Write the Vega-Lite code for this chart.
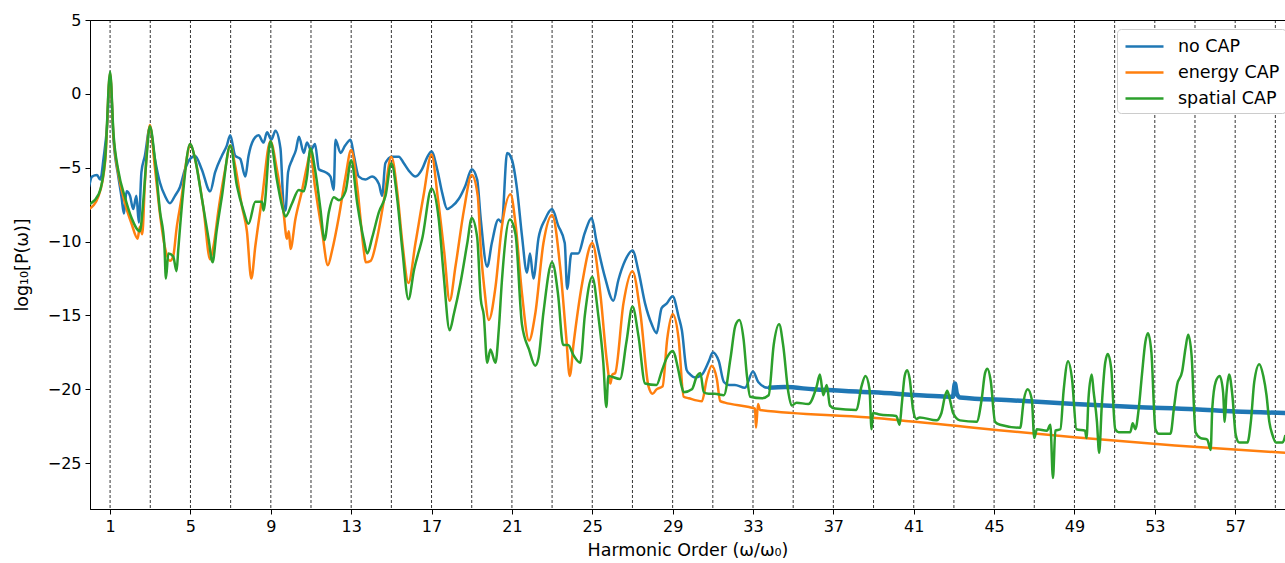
{
  "$schema": "https://vega.github.io/schema/vega-lite/v6.json",
  "width": 1195,
  "height": 489,
  "autosize": "none",
  "padding": {"left": 90, "top": 20, "right": 0, "bottom": 54},
  "background": "white",
  "config": {
    "font": "DejaVu Sans",
    "view": {"stroke": "black", "strokeWidth": 1},
    "axis": {"labelFont": "DejaVu Sans", "labelFontSize": 16, "labelColor": "black", "tickColor": "black", "domainColor": "black", "tickSize": 5, "tickWidth": 1, "domainWidth": 1, "titleFont": "DejaVu Sans", "titleFontSize": 17.5, "titleFontWeight": "normal", "titleColor": "black", "grid": false}
  },
  "datasets": {
    "nocap": [
      {"h":-0.05,"p":-6.3},{"h":0.1,"p":-5.6},{"h":0.35,"p":-5.5},{"h":0.51,"p":-5.8},{"h":0.68,"p":-4.3},{"h":0.85,"p":-2.2},{"h":1.0,"p":1.2},{"h":1.17,"p":-3.1},{"h":1.41,"p":-5.6},{"h":1.57,"p":-7.0},{"h":1.69,"p":-8.1},{"h":1.82,"p":-6.6},{"h":1.99,"p":-6.9},{"h":2.15,"p":-7.8},{"h":2.31,"p":-6.9},{"h":2.43,"p":-8.7},{"h":2.56,"p":-5.3},{"h":2.73,"p":-4.2},{"h":2.98,"p":-2.3},{"h":3.23,"p":-4.4},{"h":3.48,"p":-6.0},{"h":3.73,"p":-6.9},{"h":3.98,"p":-7.4},{"h":4.23,"p":-6.9},{"h":4.48,"p":-6.3},{"h":4.73,"p":-5.1},{"h":4.98,"p":-4.4},{"h":5.23,"p":-4.2},{"h":5.56,"p":-5.1},{"h":5.98,"p":-6.6},{"h":6.23,"p":-5.3},{"h":6.56,"p":-4.2},{"h":6.81,"p":-3.5},{"h":6.98,"p":-2.8},{"h":7.23,"p":-4.2},{"h":7.48,"p":-4.4},{"h":7.73,"p":-5.6},{"h":7.89,"p":-4.2},{"h":8.14,"p":-3.1},{"h":8.39,"p":-2.8},{"h":8.64,"p":-3.3},{"h":8.81,"p":-2.6},{"h":9.03,"p":-3.1},{"h":9.23,"p":-2.5},{"h":9.48,"p":-3.7},{"h":9.64,"p":-7.6},{"h":9.73,"p":-7.9},{"h":9.86,"p":-5.3},{"h":10.06,"p":-4.46},{"h":10.25,"p":-3.8},{"h":10.4,"p":-2.9},{"h":10.64,"p":-4.0},{"h":10.8,"p":-3.3},{"h":11.0,"p":-3.8},{"h":11.2,"p":-3.4},{"h":11.39,"p":-5.1},{"h":11.72,"p":-5.3},{"h":11.97,"p":-5.6},{"h":12.13,"p":-6.5},{"h":12.22,"p":-3.1},{"h":12.47,"p":-4.0},{"h":12.7,"p":-3.5},{"h":12.97,"p":-3.1},{"h":13.14,"p":-4.2},{"h":13.38,"p":-5.6},{"h":13.71,"p":-5.8},{"h":14.04,"p":-5.6},{"h":14.38,"p":-6.1},{"h":14.54,"p":-6.9},{"h":14.7,"p":-4.7},{"h":15.03,"p":-4.25},{"h":15.37,"p":-4.25},{"h":15.62,"p":-4.7},{"h":15.87,"p":-5.2},{"h":16.2,"p":-5.6},{"h":16.53,"p":-5.1},{"h":16.78,"p":-4.3},{"h":17.0,"p":-3.9},{"h":17.28,"p":-5.1},{"h":17.53,"p":-6.7},{"h":17.78,"p":-7.8},{"h":18.03,"p":-7.6},{"h":18.36,"p":-7.1},{"h":18.69,"p":-6.2},{"h":19.0,"p":-5.1},{"h":19.27,"p":-5.8},{"h":19.45,"p":-8.5},{"h":19.77,"p":-11.7},{"h":20.0,"p":-10.1},{"h":20.33,"p":-8.5},{"h":20.5,"p":-8.7},{"h":20.76,"p":-4.0},{"h":21.0,"p":-4.46},{"h":21.26,"p":-6.5},{"h":21.5,"p":-9.6},{"h":21.75,"p":-12.1},{"h":21.9,"p":-10.8},{"h":22.07,"p":-12.5},{"h":22.32,"p":-9.8},{"h":22.65,"p":-8.5},{"h":23.0,"p":-7.8},{"h":23.3,"p":-8.9},{"h":23.63,"p":-10.1},{"h":23.75,"p":-13.2},{"h":23.96,"p":-10.8},{"h":24.3,"p":-10.8},{"h":24.63,"p":-9.4},{"h":24.97,"p":-8.4},{"h":25.2,"p":-9.9},{"h":25.63,"p":-12.4},{"h":26.05,"p":-14.0},{"h":26.3,"p":-12.6},{"h":26.63,"p":-11.3},{"h":27.0,"p":-10.6},{"h":27.3,"p":-12.0},{"h":27.63,"p":-14.2},{"h":27.96,"p":-15.6},{"h":28.2,"p":-16.2},{"h":28.45,"p":-14.5},{"h":28.7,"p":-14.2},{"h":29.0,"p":-13.7},{"h":29.3,"p":-15.1},{"h":29.46,"p":-16.0},{"h":29.7,"p":-18.7},{"h":29.88,"p":-19.0},{"h":30.13,"p":-19.2},{"h":30.46,"p":-19.0},{"h":30.8,"p":-18.1},{"h":31.0,"p":-17.5},{"h":31.3,"p":-18.1},{"h":31.55,"p":-19.5},{"h":31.8,"p":-19.7},{"h":32.1,"p":-19.7},{"h":32.6,"p":-19.9},{"h":33.0,"p":-18.8},{"h":33.26,"p":-19.5},{"h":33.75,"p":-19.9},{"h":34.6,"p":-19.85},{"h":36.0,"p":-20.0},{"h":39.0,"p":-20.2},{"h":42.0,"p":-20.45},{"h":42.95,"p":-20.5},{"h":43.05,"p":-19.6},{"h":43.15,"p":-20.3},{"h":43.3,"p":-20.55},{"h":46.0,"p":-20.75},{"h":49.0,"p":-21.0},{"h":52.0,"p":-21.2},{"h":55.0,"p":-21.35},{"h":57.0,"p":-21.5},{"h":59.5,"p":-21.6}
    ],
    "energy": [
      {"h":-0.05,"p":-7.8},{"h":0.43,"p":-6.9},{"h":0.76,"p":-4.5},{"h":1.0,"p":1.4},{"h":1.17,"p":-2.9},{"h":1.41,"p":-5.4},{"h":1.74,"p":-7.4},{"h":2.07,"p":-8.8},{"h":2.37,"p":-9.8},{"h":2.48,"p":-9.0},{"h":2.6,"p":-9.5},{"h":2.73,"p":-6.1},{"h":2.98,"p":-2.1},{"h":3.23,"p":-5.0},{"h":3.48,"p":-8.1},{"h":3.73,"p":-10.4},{"h":3.98,"p":-11.3},{"h":4.14,"p":-11.0},{"h":4.31,"p":-9.1},{"h":4.56,"p":-7.0},{"h":4.8,"p":-4.5},{"h":4.98,"p":-3.4},{"h":5.23,"p":-4.4},{"h":5.65,"p":-7.8},{"h":5.98,"p":-11.2},{"h":6.15,"p":-10.3},{"h":6.4,"p":-7.8},{"h":6.73,"p":-5.1},{"h":6.98,"p":-3.5},{"h":7.23,"p":-4.9},{"h":7.56,"p":-7.6},{"h":7.81,"p":-9.3},{"h":8.03,"p":-12.5},{"h":8.23,"p":-10.3},{"h":8.56,"p":-7.1},{"h":8.98,"p":-3.2},{"h":9.3,"p":-5.1},{"h":9.64,"p":-8.1},{"h":9.8,"p":-9.8},{"h":9.9,"p":-9.3},{"h":9.98,"p":-10.5},{"h":10.22,"p":-8.5},{"h":10.56,"p":-6.5},{"h":10.8,"p":-4.9},{"h":10.97,"p":-4.0},{"h":11.2,"p":-6.3},{"h":11.56,"p":-9.4},{"h":11.84,"p":-11.6},{"h":12.05,"p":-10.6},{"h":12.39,"p":-8.3},{"h":12.72,"p":-5.6},{"h":13.0,"p":-3.8},{"h":13.3,"p":-6.3},{"h":13.63,"p":-10.6},{"h":13.72,"p":-11.4},{"h":13.97,"p":-11.3},{"h":14.3,"p":-9.7},{"h":14.63,"p":-7.2},{"h":15.0,"p":-4.25},{"h":15.3,"p":-6.7},{"h":15.55,"p":-10.1},{"h":15.85,"p":-12.8},{"h":16.2,"p":-10.1},{"h":16.6,"p":-6.9},{"h":17.0,"p":-4.1},{"h":17.3,"p":-6.9},{"h":17.63,"p":-10.7},{"h":17.9,"p":-14.0},{"h":18.2,"p":-11.6},{"h":18.62,"p":-7.8},{"h":19.0,"p":-5.5},{"h":19.3,"p":-6.9},{"h":19.45,"p":-10.5},{"h":19.63,"p":-13.2},{"h":19.85,"p":-15.3},{"h":20.18,"p":-13.1},{"h":20.5,"p":-9.0},{"h":20.93,"p":-6.8},{"h":21.18,"p":-8.8},{"h":21.5,"p":-13.5},{"h":21.85,"p":-16.7},{"h":22.16,"p":-14.9},{"h":22.57,"p":-10.1},{"h":23.0,"p":-8.2},{"h":23.4,"p":-11.7},{"h":23.7,"p":-16.4},{"h":23.88,"p":-19.1},{"h":24.07,"p":-16.9},{"h":24.5,"p":-12.8},{"h":25.0,"p":-10.1},{"h":25.4,"p":-13.5},{"h":25.72,"p":-18.0},{"h":25.9,"p":-19.6},{"h":26.0,"p":-19.0},{"h":26.14,"p":-18.9},{"h":26.55,"p":-14.2},{"h":27.0,"p":-12.0},{"h":27.4,"p":-14.9},{"h":27.8,"p":-19.8},{"h":28.0,"p":-20.3},{"h":28.2,"p":-20.0},{"h":28.5,"p":-19.8},{"h":28.73,"p":-16.6},{"h":29.0,"p":-14.9},{"h":29.3,"p":-16.6},{"h":29.55,"p":-20.5},{"h":29.8,"p":-20.6},{"h":30.46,"p":-20.8},{"h":30.7,"p":-19.3},{"h":30.95,"p":-18.4},{"h":31.2,"p":-19.3},{"h":31.37,"p":-20.8},{"h":31.6,"p":-20.9},{"h":32.8,"p":-21.2},{"h":33.1,"p":-21.3},{"h":33.15,"p":-22.6},{"h":33.25,"p":-21.0},{"h":33.35,"p":-21.4},{"h":38.8,"p":-21.9},{"h":44.0,"p":-22.6},{"h":49.0,"p":-23.25},{"h":54.0,"p":-23.8},{"h":59.5,"p":-24.3}
    ],
    "spatial": [
      {"h":-0.05,"p":-7.5},{"h":0.43,"p":-6.8},{"h":0.76,"p":-4.3},{"h":1.0,"p":1.5},{"h":1.17,"p":-2.7},{"h":1.41,"p":-5.2},{"h":1.74,"p":-7.0},{"h":2.07,"p":-8.4},{"h":2.48,"p":-9.3},{"h":2.65,"p":-7.3},{"h":2.81,"p":-4.4},{"h":2.98,"p":-2.2},{"h":3.23,"p":-4.4},{"h":3.48,"p":-7.9},{"h":3.7,"p":-10.2},{"h":3.78,"p":-12.5},{"h":3.9,"p":-10.8},{"h":4.14,"p":-11.0},{"h":4.31,"p":-12.0},{"h":4.39,"p":-10.6},{"h":4.64,"p":-6.6},{"h":4.98,"p":-3.4},{"h":5.23,"p":-4.4},{"h":5.56,"p":-7.0},{"h":5.9,"p":-9.8},{"h":6.1,"p":-11.4},{"h":6.3,"p":-9.3},{"h":6.56,"p":-7.0},{"h":6.98,"p":-3.5},{"h":7.31,"p":-6.2},{"h":7.64,"p":-7.9},{"h":7.89,"p":-8.8},{"h":8.23,"p":-7.3},{"h":8.56,"p":-7.3},{"h":8.64,"p":-7.9},{"h":8.98,"p":-3.2},{"h":9.3,"p":-5.8},{"h":9.56,"p":-7.6},{"h":9.73,"p":-8.3},{"h":10.06,"p":-7.4},{"h":10.39,"p":-6.5},{"h":10.64,"p":-6.6},{"h":10.8,"p":-5.6},{"h":10.97,"p":-3.7},{"h":11.2,"p":-5.1},{"h":11.47,"p":-7.8},{"h":11.67,"p":-9.9},{"h":11.89,"p":-8.0},{"h":12.14,"p":-7.0},{"h":12.39,"p":-7.2},{"h":12.72,"p":-6.6},{"h":13.0,"p":-4.5},{"h":13.3,"p":-7.4},{"h":13.63,"p":-9.9},{"h":13.8,"p":-10.8},{"h":14.05,"p":-9.7},{"h":14.38,"p":-8.0},{"h":14.71,"p":-6.9},{"h":15.0,"p":-4.7},{"h":15.3,"p":-7.2},{"h":15.55,"p":-10.6},{"h":15.85,"p":-13.9},{"h":16.13,"p":-11.9},{"h":16.55,"p":-9.7},{"h":17.0,"p":-6.4},{"h":17.36,"p":-8.5},{"h":17.6,"p":-12.2},{"h":17.9,"p":-16.0},{"h":18.11,"p":-14.9},{"h":18.44,"p":-12.8},{"h":18.78,"p":-10.1},{"h":19.0,"p":-8.4},{"h":19.27,"p":-9.7},{"h":19.45,"p":-13.9},{"h":19.6,"p":-15.0},{"h":19.77,"p":-18.2},{"h":19.93,"p":-17.3},{"h":20.18,"p":-18.2},{"h":20.35,"p":-15.9},{"h":20.5,"p":-12.7},{"h":20.9,"p":-8.5},{"h":21.18,"p":-9.5},{"h":21.5,"p":-15.6},{"h":21.85,"p":-17.3},{"h":22.16,"p":-18.4},{"h":22.32,"p":-17.9},{"h":22.57,"p":-14.8},{"h":23.0,"p":-11.4},{"h":23.3,"p":-13.6},{"h":23.55,"p":-17.0},{"h":23.8,"p":-17.0},{"h":24.07,"p":-17.7},{"h":24.4,"p":-18.2},{"h":24.63,"p":-15.0},{"h":25.0,"p":-12.4},{"h":25.3,"p":-15.0},{"h":25.55,"p":-18.2},{"h":25.7,"p":-21.2},{"h":25.8,"p":-19.1},{"h":26.38,"p":-19.3},{"h":26.7,"p":-16.8},{"h":27.0,"p":-14.4},{"h":27.3,"p":-16.4},{"h":27.63,"p":-19.6},{"h":28.2,"p":-19.7},{"h":28.45,"p":-18.8},{"h":28.7,"p":-17.9},{"h":29.0,"p":-17.4},{"h":29.3,"p":-18.8},{"h":29.45,"p":-19.8},{"h":29.55,"p":-20.2},{"h":29.96,"p":-20.0},{"h":30.21,"p":-19.1},{"h":30.38,"p":-18.9},{"h":30.55,"p":-20.2},{"h":30.8,"p":-20.3},{"h":31.1,"p":-20.3},{"h":31.55,"p":-20.4},{"h":31.88,"p":-17.9},{"h":32.12,"p":-15.7},{"h":32.32,"p":-15.3},{"h":32.53,"p":-16.6},{"h":32.7,"p":-19.1},{"h":32.86,"p":-20.5},{"h":33.45,"p":-20.6},{"h":33.78,"p":-20.4},{"h":34.03,"p":-17.0},{"h":34.3,"p":-15.6},{"h":34.5,"p":-17.0},{"h":34.76,"p":-20.2},{"h":34.92,"p":-21.1},{"h":35.17,"p":-20.9},{"h":35.75,"p":-21.0},{"h":36.17,"p":-19.8},{"h":36.33,"p":-19.0},{"h":36.5,"p":-20.4},{"h":36.67,"p":-19.7},{"h":36.83,"p":-21.1},{"h":37.08,"p":-21.3},{"h":38.15,"p":-21.4},{"h":38.4,"p":-19.8},{"h":38.6,"p":-19.1},{"h":38.8,"p":-20.0},{"h":38.9,"p":-22.7},{"h":38.97,"p":-21.6},{"h":39.3,"p":-21.7},{"h":40.13,"p":-21.8},{"h":40.3,"p":-22.4},{"h":40.4,"p":-21.1},{"h":40.55,"p":-19.1},{"h":40.67,"p":-18.7},{"h":40.8,"p":-19.3},{"h":40.96,"p":-21.3},{"h":41.13,"p":-22.0},{"h":41.3,"p":-21.9},{"h":42.13,"p":-22.1},{"h":42.38,"p":-21.6},{"h":42.55,"p":-20.5},{"h":42.67,"p":-20.1},{"h":42.8,"p":-20.7},{"h":42.96,"p":-21.6},{"h":43.3,"p":-22.1},{"h":44.13,"p":-22.2},{"h":44.38,"p":-20.7},{"h":44.55,"p":-18.9},{"h":44.67,"p":-18.6},{"h":44.83,"p":-19.4},{"h":45.05,"p":-22.2},{"h":45.3,"p":-22.4},{"h":46.3,"p":-22.6},{"h":46.47,"p":-20.8},{"h":46.67,"p":-20.0},{"h":46.88,"p":-20.7},{"h":47.0,"p":-23.3},{"h":47.13,"p":-22.7},{"h":47.63,"p":-22.8},{"h":47.8,"p":-22.4},{"h":47.93,"p":-26.0},{"h":48.05,"p":-22.8},{"h":48.3,"p":-22.7},{"h":48.46,"p":-20.1},{"h":48.68,"p":-18.1},{"h":48.88,"p":-19.3},{"h":49.1,"p":-22.7},{"h":49.53,"p":-22.8},{"h":49.6,"p":-23.3},{"h":49.7,"p":-20.6},{"h":49.86,"p":-19.0},{"h":49.95,"p":-20.1},{"h":50.12,"p":-22.2},{"h":50.23,"p":-24.3},{"h":50.36,"p":-21.1},{"h":50.53,"p":-18.2},{"h":50.66,"p":-17.6},{"h":50.83,"p":-18.6},{"h":51.03,"p":-22.7},{"h":51.2,"p":-22.9},{"h":51.78,"p":-22.9},{"h":51.9,"p":-22.3},{"h":52.03,"p":-22.7},{"h":52.2,"p":-21.3},{"h":52.36,"p":-19.0},{"h":52.53,"p":-16.8},{"h":52.66,"p":-16.2},{"h":52.83,"p":-17.5},{"h":53.03,"p":-22.7},{"h":53.2,"p":-23.0},{"h":53.78,"p":-23.0},{"h":53.95,"p":-21.3},{"h":54.11,"p":-19.7},{"h":54.36,"p":-18.8},{"h":54.53,"p":-17.2},{"h":54.66,"p":-16.3},{"h":54.83,"p":-17.7},{"h":55.03,"p":-22.9},{"h":55.28,"p":-23.3},{"h":55.61,"p":-23.4},{"h":55.78,"p":-24.1},{"h":55.86,"p":-21.3},{"h":56.03,"p":-19.5},{"h":56.23,"p":-19.1},{"h":56.4,"p":-20.2},{"h":56.48,"p":-22.2},{"h":56.56,"p":-20.4},{"h":56.7,"p":-19.0},{"h":56.86,"p":-20.4},{"h":57.03,"p":-23.1},{"h":57.2,"p":-23.6},{"h":57.61,"p":-23.6},{"h":57.78,"p":-22.2},{"h":57.95,"p":-19.5},{"h":58.2,"p":-18.3},{"h":58.4,"p":-19.1},{"h":58.56,"p":-20.4},{"h":58.7,"p":-22.2},{"h":58.86,"p":-23.1},{"h":59.03,"p":-23.6},{"h":59.36,"p":-23.6},{"h":59.5,"p":-23.1}
    ],
    "odd": [
      {"h":1},{"h":3},{"h":5},{"h":7},{"h":9},{"h":11},{"h":13},{"h":15},{"h":17},{"h":19},{"h":21},{"h":23},{"h":25},{"h":27},{"h":29},{"h":31},{"h":33},{"h":35},{"h":37},{"h":39},{"h":41},{"h":43},{"h":45},{"h":47},{"h":49},{"h":51},{"h":53},{"h":55},{"h":57},{"h":59}
    ]
  },
  "encoding": {
    "x": {"field": "h", "type": "quantitative", "scale": {"domain": [0, 59.48], "nice": false, "zero": false},
      "axis": {"values": [1,5,9,13,17,21,25,29,33,37,41,45,49,53,57], "title": "Harmonic Order (ω/ω₀)", "labelPadding": 4, "titlePadding": 7}}
  },
  "layer": [
    {
      "data": {"name": "odd"},
      "mark": {"type": "rule", "color": "black", "strokeWidth": 0.8, "strokeDash": [3, 2]},
      "encoding": {}
    },
    {
      "data": {"name": "nocap"},
      "mark": {"type": "line", "strokeWidth": 2.5, "clip": true, "interpolate": "monotone"},
      "encoding": {
        "y": {"field": "p", "type": "quantitative", "scale": {"domain": [-28.1, 5], "nice": false, "zero": false},
          "axis": {"values": [-25,-20,-15,-10,-5,0,5], "title": "log₁₀[P(ω)]", "labelPadding": 4, "titlePadding": 16}},
        "color": {"datum": "no CAP", "type": "nominal",
          "scale": {"domain": ["no CAP", "energy CAP", "spatial CAP"], "range": ["#1f77b4", "#ff7f0e", "#2ca02c"]},
          "legend": {"title": null, "orient": "none", "legendX": 1027, "legendY": 9, "symbolType": "M-0.9,0L2.9,0", "symbolSize": 400, "symbolStrokeWidth": 2.5, "symbolFillColor": "transparent", "labelFont": "DejaVu Sans", "labelFontSize": 17.5, "labelColor": "black", "labelOffset": 32, "rowPadding": 6, "padding": 6, "strokeColor": "#cccccc", "fillColor": "white", "cornerRadius": 4}}
      }
    },
    {
      "data": {"name": "nocap"},
      "transform": [{"filter": "datum.h >= 33.5"}],
      "mark": {"type": "line", "strokeWidth": 4.5, "clip": true, "interpolate": "monotone"},
      "encoding": {
        "y": {"field": "p", "type": "quantitative"},
        "color": {"datum": "no CAP", "type": "nominal"}
      }
    },
    {
      "data": {"name": "energy"},
      "mark": {"type": "line", "strokeWidth": 2.5, "clip": true, "interpolate": "monotone"},
      "encoding": {
        "y": {"field": "p", "type": "quantitative"},
        "color": {"datum": "energy CAP", "type": "nominal"}
      }
    },
    {
      "data": {"name": "spatial"},
      "mark": {"type": "line", "strokeWidth": 2.5, "clip": true, "interpolate": "monotone"},
      "encoding": {
        "y": {"field": "p", "type": "quantitative"},
        "color": {"datum": "spatial CAP", "type": "nominal"}
      }
    }
  ]
}
